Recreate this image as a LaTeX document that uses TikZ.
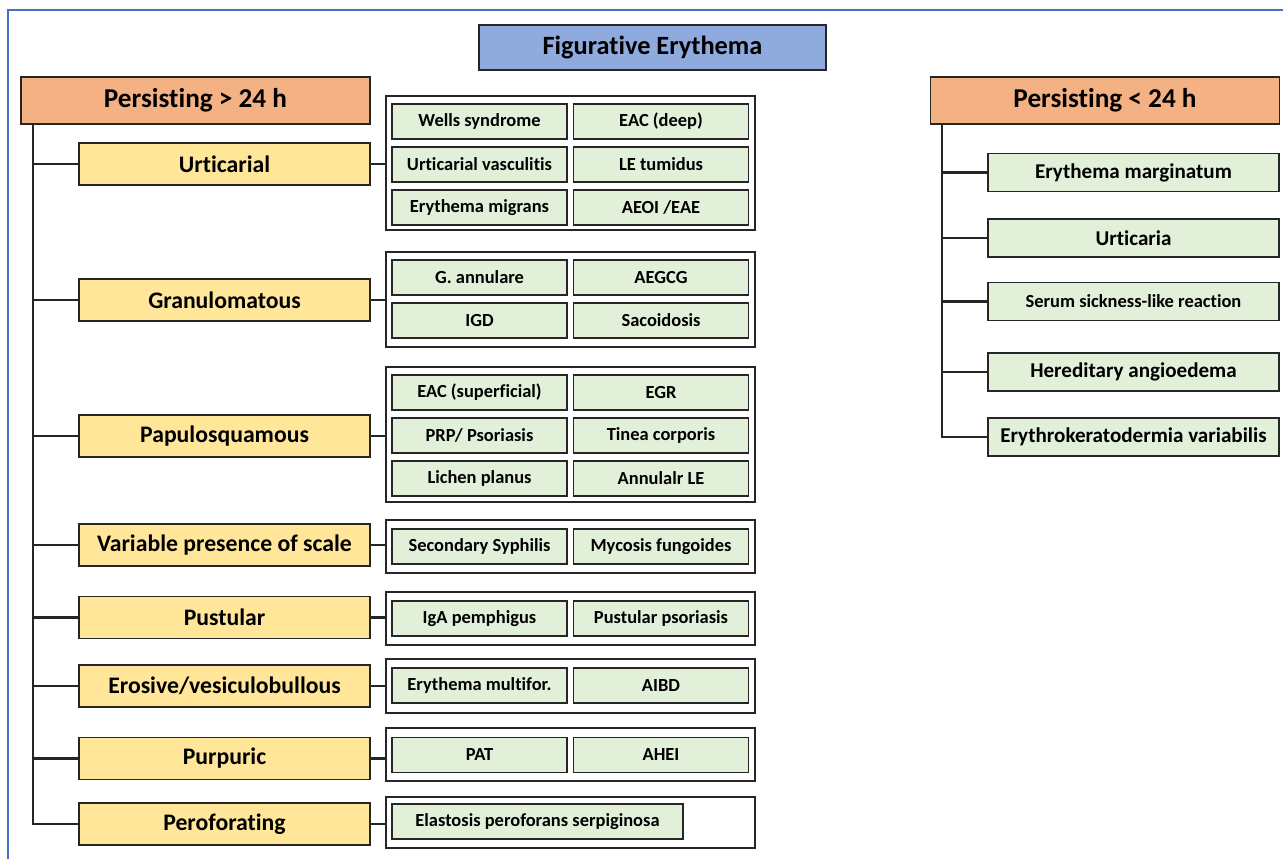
\documentclass[tikz,border=0pt]{standalone}
\usepackage{fontspec}
\setmainfont{Carlito}[Ligatures=NoCommon]
\usetikzlibrary{positioning}
\definecolor{frameblue}{HTML}{4472C4}
\definecolor{titlefill}{HTML}{8FAADC}
\definecolor{headfill}{HTML}{F4B183}
\definecolor{catfill}{HTML}{FFE699}
\definecolor{itemfill}{HTML}{E2F0D9}
\definecolor{boxline}{HTML}{262626}
\newcommand{\fsz}[1]{\fontsize{#1}{#1}\selectfont\bfseries}

\begin{document}
\begin{tikzpicture}[x=0.02cm, y=-0.02cm,
  wd/.style={minimum width=#1*0.02cm},
  ht/.style={minimum height=#1*0.02cm},
  box/.style={draw=boxline, line width=0.85pt, inner sep=0pt},
  head/.style={box, fill=headfill, wd=349, ht=47, font=\fsz{15.5}},
  cat/.style={box, fill=catfill, wd=291, ht=42, font=\fsz{13.5}},
  grp/.style={box, fill=white, wd=369},
  item/.style={box, fill=itemfill, wd=175, ht=35, font=\fsz{10.5}},
  ritem/.style={box, fill=itemfill, wd=291, ht=38, font=\fsz{12}},
  link/.style={draw=boxline, line width=1.2pt}]
\useasboundingbox (0,0) rectangle (1283,859);
\draw[frameblue, line width=0.8pt] (8,859) -- (8,10) -- (1283,10);

\node[box, fill=titlefill, wd=347, ht=45, font=\fsz{15}] (title) at (652.5,47.5) {Figurative Erythema};
\node[head] (lhead) at (195.5,100.5) {Persisting > 24 h};
\node[head] (rhead) at (1105,100.5) {Persisting < 24 h};

\node[cat] (urt) at (224.5,164) {Urticarial};
\node[cat] (gran) at (224.5,300) {Granulomatous};
\node[cat] (papu) at (224.5,436) {Papulosquamous};
\node[cat] (vari) at (224.5,545) {Variable presence of scale};
\node[cat] (pust) at (224.5,617.5) {Pustular};
\node[cat] (eros) at (224.5,686) {Erosive/vesiculobullous};
\node[cat] (purp) at (224.5,758.5) {Purpuric};
\node[cat] (perf) at (224.5,824) {Peroforating};

\coordinate (ltop) at (33,124);
\draw[link] (ltop) |- (perf.west);
\foreach \c in {urt,gran,papu,vari,pust,eros,purp}
  \draw[link] (\c.west) -- (\c.west -| ltop);

\node[grp, ht=134] (urtgrp) at (570.5,163) {};
\node[item] (wells) at (479.5,121.5) {Wells syndrome};
\node[item] (eacd) at (661,121.5) {EAC (deep)};
\node[item] (uvasc) at (479.5,164.5) {Urticarial vasculitis};
\node[item] (letum) at (661,164.5) {LE tumidus};
\node[item] (emig) at (479.5,207.5) {Erythema migrans};
\node[item] (aeoi) at (661,207.5) {AEOI /EAE};

\node[grp, ht=95] (grangrp) at (570.5,299.5) {};
\node[item] (ganu) at (479.5,277.5) {G. annulare};
\node[item] (aegcg) at (661,277.5) {AEGCG};
\node[item] (igd) at (479.5,320.5) {IGD};
\node[item] (sarc) at (661,320.5) {Sacoidosis};

\node[grp, ht=135] (papugrp) at (570.5,434.5) {};
\node[item] (eacs) at (479.5,392.5) {EAC (superficial)};
\node[item] (egr) at (661,392.5) {EGR};
\node[item] (prp) at (479.5,435.5) {PRP/ Psoriasis};
\node[item] (tinea) at (661,435.5) {Tinea corporis};
\node[item] (lichen) at (479.5,478.5) {Lichen planus};
\node[item] (annle) at (661,478.5) {Annulalr LE};

\node[grp, ht=53] (varigrp) at (570.5,546.5) {};
\node[item] (syph) at (479.5,546.5) {Secondary Syphilis};
\node[item] (mycf) at (661,546.5) {Mycosis fungoides};

\node[grp, ht=53] (pustgrp) at (570.5,618.5) {};
\node[item] (igap) at (479.5,618.5) {IgA pemphigus};
\node[item] (ppso) at (661,618.5) {Pustular psoriasis};

\node[grp, ht=54] (erosgrp) at (570.5,686) {};
\node[item] (emult) at (479.5,685.5) {Erythema multifor.};
\node[item] (aibd) at (661,685.5) {AIBD};

\node[grp, ht=53] (purpgrp) at (570.5,754.5) {};
\node[item] (pat) at (479.5,755) {PAT};
\node[item] (ahei) at (661,755) {AHEI};

\node[grp, ht=51] (perfgrp) at (570.5,822.5) {};
\node[item, wd=291] (elast) at (537.5,821.5) {Elastosis peroforans serpiginosa};

\draw[link] (urt.east) -- (urt.east -| urtgrp.west);
\draw[link] (gran.east) -- (gran.east -| grangrp.west);
\draw[link] (papu.east) -- (papu.east -| papugrp.west);
\draw[link] (vari.east) -- (vari.east -| varigrp.west);
\draw[link] (pust.east) -- (pust.east -| pustgrp.west);
\draw[link] (eros.east) -- (eros.east -| erosgrp.west);
\draw[link] (purp.east) -- (purp.east -| purpgrp.west);
\draw[link] (perf.east) -- (perf.east -| perfgrp.west);

\node[ritem] (emarg) at (1133.5,172.5) {Erythema marginatum};
\node[ritem] (urtic) at (1133.5,238) {Urticaria};
\node[ritem, font=\fsz{10.5}] (serum) at (1133.5,301.5) {Serum sickness-like reaction};
\node[ritem] (hered) at (1133.5,372) {Hereditary angioedema};
\node[ritem] (eryk) at (1133.5,437) {Erythrokeratodermia variabilis};

\coordinate (rtop) at (942,124);
\draw[link] (rtop) |- (eryk.west);
\foreach \c in {emarg,urtic,serum,hered}
  \draw[link] (\c.west) -- (\c.west -| rtop);
\end{tikzpicture}
\end{document}
